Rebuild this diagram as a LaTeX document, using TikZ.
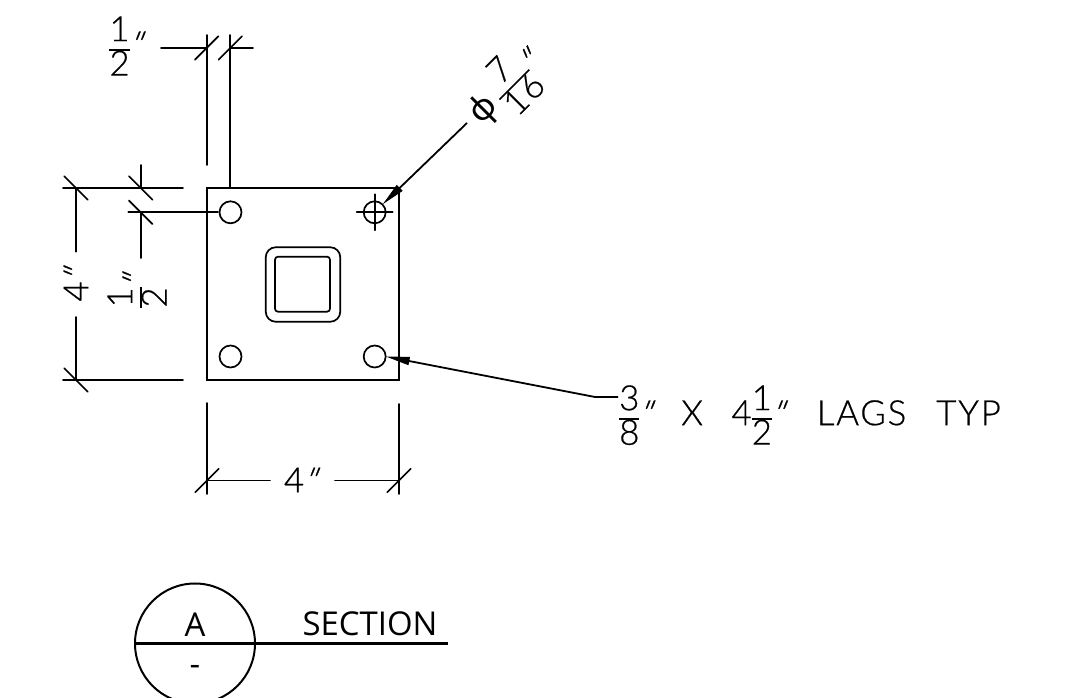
\documentclass[tikz,border=0pt]{standalone}
\usepackage{fontspec}
\setmainfont[LetterSpace=5,FakeBold=0.5]{Lato Light}
\newfontfamily\sectfont{Open Sans}
\newfontfamily\phifont{Noto Sans}
\newfontfamily\inchfont[FakeSlant=0.4,FakeBold=0.8]{Lato Light}
\usetikzlibrary{arrows.meta}
\setlength{\arrayrulewidth}{1.6bp}
\newcommand{\cadfrac}[2]{\renewcommand{\arraystretch}{0.76}\begin{tabular}{@{}c@{}}#1\\\hline #2\end{tabular}}
\newcommand{\inchmark}{\hspace{-3bp}{\inchfont\textquotedbl}}
\tikzset{
  dimline/.style={line width=1.7bp,line cap=round},
  cadtext/.style={font=\fontsize{35}{35}\selectfont,inner sep=0pt},
  leader/.style={line width=1.8bp,-{Triangle[length=24bp,width=8bp]}},
  steel/.style={draw,line width=1.7bp,inner sep=0pt,outer sep=0pt},
}
\begin{document}
\begin{tikzpicture}
	\useasboundingbox (0bp,0bp) rectangle (1072bp,698bp);
	%% plate and post
	\node (Plate) at (303bp,414bp) [steel,rectangle,minimum size=192bp] {};
	\node (TubeOut) at (303bp,413.5bp) [steel,rectangle,rounded corners=10bp,minimum size=74.5bp] {};
	\node (TubeIn) at (302.5bp,413.8bp) [steel,rectangle,rounded corners=3bp,minimum size=55bp] {};
	\node (HoleA) at (230.5bp,485.7bp) [steel,circle,minimum size=22bp] {};
	\node (HoleB) at (374.7bp,485.7bp) [steel,circle,minimum size=22bp] {};
	\node (HoleC) at (230.5bp,341.5bp) [steel,circle,minimum size=22bp] {};
	\node (HoleD) at (374.7bp,341.5bp) [steel,circle,minimum size=22bp] {};
	%% dimension points
	\coordinate (TopL) at (206.7bp,650bp);
	\coordinate (TopR) at (230.3bp,650bp);
	\coordinate (TopLUp) at (206.7bp,663bp);
	\coordinate (TopLDn) at (206.7bp,533bp);
	\coordinate (TopRUp) at (230.3bp,663bp);
	\coordinate (TopRDn) at (230.3bp,510bp);
	\coordinate (TopStubL) at (161bp,650bp);
	\coordinate (TopStubR) at (253bp,650bp);
	\coordinate (BotL) at (207bp,217.5bp);
	\coordinate (BotR) at (399bp,217.5bp);
	\coordinate (BotLUp) at (207bp,295bp);
	\coordinate (BotLDn) at (207bp,204bp);
	\coordinate (BotRUp) at (399bp,294bp);
	\coordinate (BotRDn) at (399bp,204bp);
	\coordinate (BotGapL) at (270bp,217.5bp);
	\coordinate (BotGapR) at (335bp,217.5bp);
	\coordinate (LeftT) at (76bp,510bp);
	\coordinate (LeftB) at (76bp,318bp);
	\coordinate (LeftGapT) at (76bp,446.3bp);
	\coordinate (LeftGapB) at (76bp,381bp);
	\coordinate (ExtTL) at (63bp,510bp);
	\coordinate (ExtTR) at (183bp,510bp);
	\coordinate (ExtBL) at (63bp,318bp);
	\coordinate (ExtBR) at (183bp,318bp);
	\coordinate (EdgeT) at (140.7bp,510bp);
	\coordinate (EdgeB) at (140.7bp,485.7bp);
	\coordinate (EdgeUp) at (140.7bp,533bp);
	\coordinate (EdgeDn) at (140.7bp,440bp);
	\coordinate (EdgeExtL) at (128.3bp,485.7bp);
	\coordinate (EdgeExtR) at (218bp,485.7bp);
	\coordinate (BoreStart) at (467bp,575bp);
	\coordinate (LagElbow) at (595bp,301bp);
	\coordinate (LagEnd) at (618bp,301bp);
	%% labels
	\node (DimTop) at (124bp,648bp) [cadtext] {\cadfrac{1}{2}\inchmark};
	\node (DimLeft) at (76bp,411bp) [cadtext,rotate=90] {4\inchmark};
	\node (DimEdge) at (141bp,405bp) [cadtext,rotate=90] {\cadfrac{1}{2}\inchmark};
	\node (DimBot) at (298.5bp,218bp) [cadtext] {4\inchmark};
	\node (DimBore) at (506.5bp,605.5bp) [cadtext,rotate=45] {{\phifont ϕ}\,\cadfrac{7}{16}\inchmark};
	\node (DimLag) at (619bp,279bp) [cadtext,anchor=west] {\cadfrac{3}{8}\inchmark\hspace{33bp}X\hspace{28.5bp}4\cadfrac{1}{2}\inchmark\hspace{36bp}LAGS\hspace{30bp}TYP};
	%% dimension lines
	\draw [dimline] (TopLUp) -- (TopLDn);
	\draw [dimline] (TopRUp) -- (TopRDn);
	\draw [dimline] (TopStubL) -- (TopL);
	\draw [dimline] (TopR) -- (TopStubR);
	\draw [dimline] (BotLUp) -- (BotLDn);
	\draw [dimline] (BotRUp) -- (BotRDn);
	\draw [dimline] (BotL) -- (BotGapL);
	\draw [dimline] (BotGapR) -- (BotR);
	\draw [dimline] (LeftT) -- (LeftGapT);
	\draw [dimline] (LeftGapB) -- (LeftB);
	\draw [dimline] (ExtTL) -- (ExtTR);
	\draw [dimline] (ExtBL) -- (ExtBR);
	\draw [dimline] (EdgeUp) -- (EdgeT);
	\draw [dimline] (EdgeB) -- (EdgeDn);
	\draw [dimline] (EdgeExtL) -- (EdgeExtR);
	\foreach \tickname in {TopL,TopR,BotL,BotR}
		\draw [dimline] ([xshift=-11.7bp,yshift=-11.7bp]\tickname) -- ([xshift=11.7bp,yshift=11.7bp]\tickname);
	\foreach \tickname in {LeftT,LeftB,EdgeT,EdgeB}
		\draw [dimline] ([xshift=-11.7bp,yshift=11.7bp]\tickname) -- ([xshift=11.7bp,yshift=-11.7bp]\tickname);
	%% centre mark
	\draw [dimline] ([xshift=-18bp]HoleB.center) -- ([xshift=18bp]HoleB.center);
	\draw [dimline] ([yshift=-18bp]HoleB.center) -- ([yshift=18bp]HoleB.center);
	%% leaders
	\draw [leader] (BoreStart) -- (HoleB.north east);
	\draw [leader] (LagEnd) -- (LagElbow) -- (HoleD.east);
	%% section mark
	\node (SecMark) at (195bp,54.5bp) [draw,circle,line width=2bp,inner sep=0pt,minimum size=120bp] {};
	\coordinate (SecEnd) at (448bp,54.5bp);
	\draw [line width=2.2bp] (SecMark.west) -- (SecEnd);
	\node (SecA) at (195bp,73bp) [inner sep=0pt,font=\sectfont\fontsize{33}{33}\selectfont] {A};
	\node (SecDash) at (195bp,28bp) [inner sep=0pt,font=\sectfont\fontsize{33}{33}\selectfont] {-};
	\node (SecTitle) at (370bp,62bp) [anchor=base,inner sep=0pt,font=\sectfont\fontsize{33}{33}\selectfont] {SECTION};
\end{tikzpicture}
\end{document}
